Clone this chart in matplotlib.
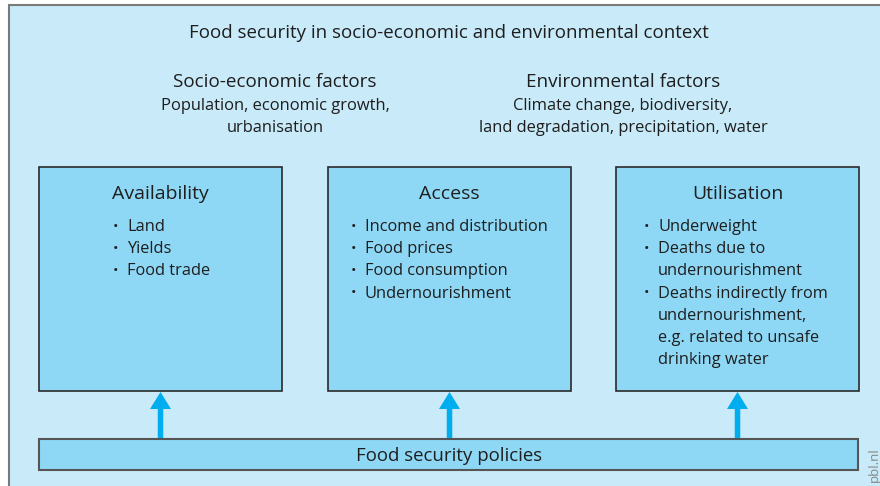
import matplotlib
matplotlib.use("Agg")
import matplotlib.pyplot as plt
from matplotlib.patches import Rectangle, FancyArrow

plt.rcParams['font.family'] = ['Open Sans', 'DejaVu Sans']

title = "Food security in socio-economic and environmental context"
factor_heads = ["Socio-economic factors", "Environmental factors"]
factor_lines = [["Population, economic growth,", "urbanisation"],
                ["Climate change, biodiversity,", "land degradation, precipitation, water"]]
box_titles = ["Availability", "Access", "Utilisation"]
box_items = [
    [["Land"], ["Yields"], ["Food trade"]],
    [["Income and distribution"], ["Food prices"], ["Food consumption"], ["Undernourishment"]],
    [["Underweight"], ["Deaths due to", "undernourishment"],
     ["Deaths indirectly from", "undernourishment,", "e.g. related to unsafe", "drinking water"]],
]
policy_label = "Food security policies"
source = "pbl.nl"

BG = "#c8eaf9"
BOX = "#8ed8f6"
ARROW = "#00aeef"
TXT = "#1e1e1e"

fig = plt.figure(figsize=(8.8, 4.86), dpi=100)
ax = fig.add_axes([0, 0, 1, 1])
ax.set_xlim(0, 880)
ax.set_ylim(486, 0)
ax.axis('off')

# outer frame
ax.add_patch(Rectangle((8.5, 5.5), 900, 500, facecolor=BG, edgecolor="#7a7a7a", lw=1.5))

ax.text(449, 33, title, ha='center', va='center', fontsize=13.5, color=TXT)

fx = [275, 623]
for x, head, lines in zip(fx, factor_heads, factor_lines):
    ax.text(x, 82, head, ha='center', va='center', fontsize=13.6, color=TXT)
    for i, ln in enumerate(lines):
        ax.text(x, 106 + 22 * i, ln, ha='center', va='center', fontsize=11.85, color=TXT)

box_left = [39, 328, 616]
box_w = 243
box_top = 166.5
box_bottom = 391
text_x = [127, 365, 658]
for bl, bt, items, tx in zip(box_left, box_titles, box_items, text_x):
    ax.add_patch(Rectangle((bl, box_top), box_w, box_bottom - box_top,
                           facecolor=BOX, edgecolor="#2a2a2a", lw=1.2))
    cx = bl + box_w / 2
    ax.text(cx, 194, bt, ha='center', va='center', fontsize=14, color=TXT)
    y = 227
    for item in items:
        ax.text(tx - 11.5, y, "•", ha='center', va='center', fontsize=10.5, color=TXT)
        for ln in item:
            ax.text(tx, y, ln, ha='left', va='center', fontsize=11.8, color=TXT)
            y += 22.2
    # arrow
    ax.add_patch(FancyArrow(cx, 439, 0, -47, width=5.5, head_width=21, head_length=17,
                            length_includes_head=True, color=ARROW, lw=0))

ax.add_patch(Rectangle((39, 439), 858 - 39, 31, facecolor=BOX, edgecolor="#555555", lw=1.5))
ax.text(449, 456, policy_label, ha='center', va='center', fontsize=13.4, color=TXT)

ax.text(874, 465, source, ha='center', va='center', rotation=90, fontsize=9.5, color="#888888")

fig.savefig("out.png", dpi=100, facecolor='white')
